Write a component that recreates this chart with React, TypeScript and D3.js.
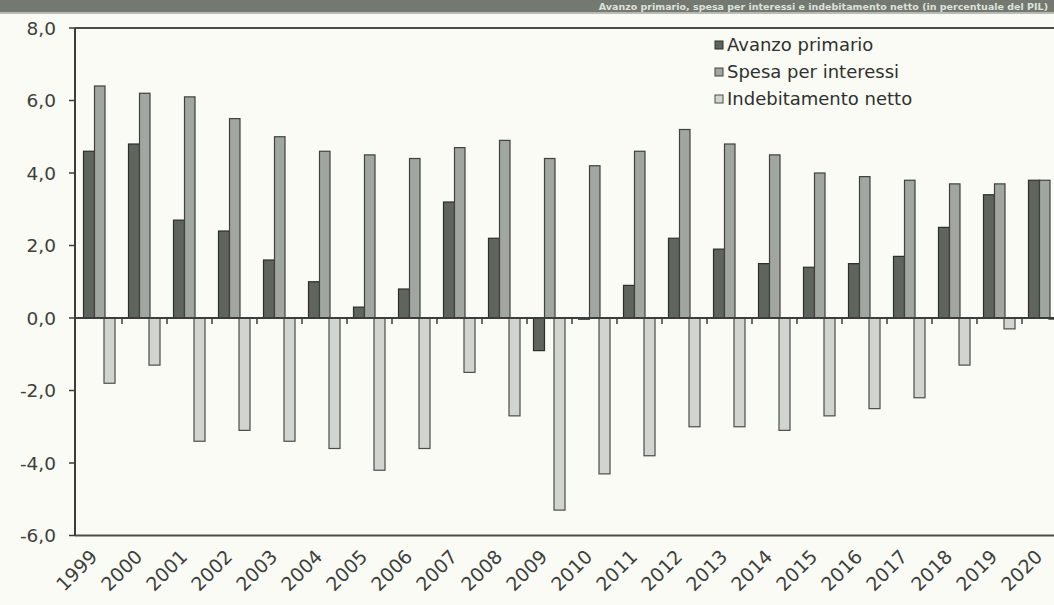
import React from "react";
import * as d3 from "d3";

const years = [
  "1999", "2000", "2001", "2002", "2003", "2004", "2005", "2006", "2007", "2008", "2009",
  "2010", "2011", "2012", "2013", "2014", "2015", "2016", "2017", "2018", "2019", "2020",
];

const avanzoPrimario = [4.6, 4.8, 2.7, 2.4, 1.6, 1.0, 0.3, 0.8, 3.2, 2.2, -0.9, 0.0, 0.9, 2.2, 1.9, 1.5, 1.4, 1.5, 1.7, 2.5, 3.4, 3.8];
const spesaInteressi = [6.4, 6.2, 6.1, 5.5, 5.0, 4.6, 4.5, 4.4, 4.7, 4.9, 4.4, 4.2, 4.6, 5.2, 4.8, 4.5, 4.0, 3.9, 3.8, 3.7, 3.7, 3.8];
const indebitamentoNetto = [-1.8, -1.3, -3.4, -3.1, -3.4, -3.6, -4.2, -3.6, -1.5, -2.7, -5.3, -4.3, -3.8, -3.0, -3.0, -3.1, -2.7, -2.5, -2.2, -1.3, -0.3, 0.0];

const yTicks = [8, 6, 4, 2, 0, -2, -4, -6];

const seriesNames = ["Avanzo primario", "Spesa per interessi", "Indebitamento netto"];

const W = 1054;
const H = 605;
const FONT = "'DejaVu Sans', Verdana, sans-serif";

const series = [
  { name: seriesNames[0], values: avanzoPrimario, fill: "#5f655d", stroke: "#2b2f2a", offset: 6.5, width: 11 },
  { name: seriesNames[1], values: spesaInteressi, fill: "#a2a6a0", stroke: "#3e423d", offset: 17.5, width: 10.5 },
  { name: seriesNames[2], values: indebitamentoNetto, fill: "#d2d5cf", stroke: "#4a4e49", offset: 27, width: 11 },
];

const fmt = (v: number) => d3.format(".1f")(v).replace(".", ",").replace("−", "-");

export default function App() {
  const x = d3.scaleBand<string>().domain(years).range([77, 77 + years.length * 45]).padding(0);
  const y = d3.scaleLinear().domain([-6, 8]).range([535.5, 28]);
  const bw = x.bandwidth();
  const scale = bw / 45;
  const y0 = y(0);

  return (
    <div style={{ position: "fixed", left: 0, top: 0, width: W, height: H, background: "#fbfbf6" }}>
      <svg width={W} height={H} style={{ display: "block" }}>
        <rect x={0} y={0} width={W} height={H} fill="#fbfbf6" />
        {/* title strip */}
        <rect x={0} y={0} width={W} height={12} fill="#737870" />
        <rect x={0} y={12} width={W} height={2} fill="#b9bcb5" />
        <text x={1048} y={9.5} textAnchor="end" fontFamily={FONT} fontWeight="bold" fontSize={9.5} fill="#dfe2db">
          Avanzo primario, spesa per interessi e indebitamento netto (in percentuale del PIL)
        </text>

        {/* frame lines */}
        <line x1={75} x2={W} y1={y(8)} y2={y(8)} stroke="#4a4d48" strokeWidth={2} />
        <line x1={75} x2={W} y1={y(-6)} y2={y(-6)} stroke="#4a4d48" strokeWidth={2} />
        <line x1={75} x2={75} y1={y(8)} y2={y(-6)} stroke="#3a3d39" strokeWidth={2} />

        {/* y axis ticks and labels */}
        {yTicks.map((t) => (
          <g key={t}>
            <line x1={69} x2={75} y1={y(t)} y2={y(t)} stroke="#3a3d39" strokeWidth={1.5} />
            <text
              x={56}
              y={y(t)}
              dy="0.36em"
              textAnchor="end"
              fontFamily={FONT}
              fontSize={18.5}
              fill="#3c3f3b"
            >
              {fmt(t)}
            </text>
          </g>
        ))}

        {/* bars */}
        {series.map((s) => (
          <g key={s.name}>
            {s.values.map((v, i) => {
              const x0 = (x(years[i]) as number) + s.offset * scale;
              const top = Math.min(y(v), y0);
              const h = Math.max(Math.abs(y(v) - y0), 1.2);
              return (
                <rect
                  key={years[i]}
                  x={x0}
                  y={v < 0 ? y0 : top}
                  width={s.width * scale}
                  height={h}
                  fill={s.fill}
                  stroke={s.stroke}
                  strokeWidth={1.2}
                />
              );
            })}
          </g>
        ))}

        {/* zero line and category ticks */}
        <line x1={75} x2={W} y1={y0} y2={y0} stroke="#3a3d39" strokeWidth={2} />
        {years.map((yr) => (
          <line
            key={"t" + yr}
            x1={(x(yr) as number) + bw}
            x2={(x(yr) as number) + bw}
            y1={y0}
            y2={y0 + 6}
            stroke="#3a3d39"
            strokeWidth={1.5}
          />
        ))}

        {/* x labels */}
        {years.map((yr) => {
          const cx = (x(yr) as number) + bw / 2 - 1;
          const cy = 558;
          return (
            <text
              key={"l" + yr}
              transform={`translate(${cx},${cy}) rotate(-45)`}
              textAnchor="end"
              fontFamily={FONT}
              fontSize={19}
              fill="#3c3f3b"
            >
              {yr}
            </text>
          );
        })}

        {/* legend */}
        {series.map((s, i) => (
          <g key={"lg" + s.name} transform={`translate(715,${45 + i * 27})`}>
            <rect x={0} y={-4} width={8} height={8} fill={s.fill} stroke={s.stroke} strokeWidth={1} />
            <text x={12} y={0} dy="0.36em" fontFamily={FONT} fontSize={18} fill="#2e312d">
              {s.name}
            </text>
          </g>
        ))}
      </svg>
    </div>
  );
}
